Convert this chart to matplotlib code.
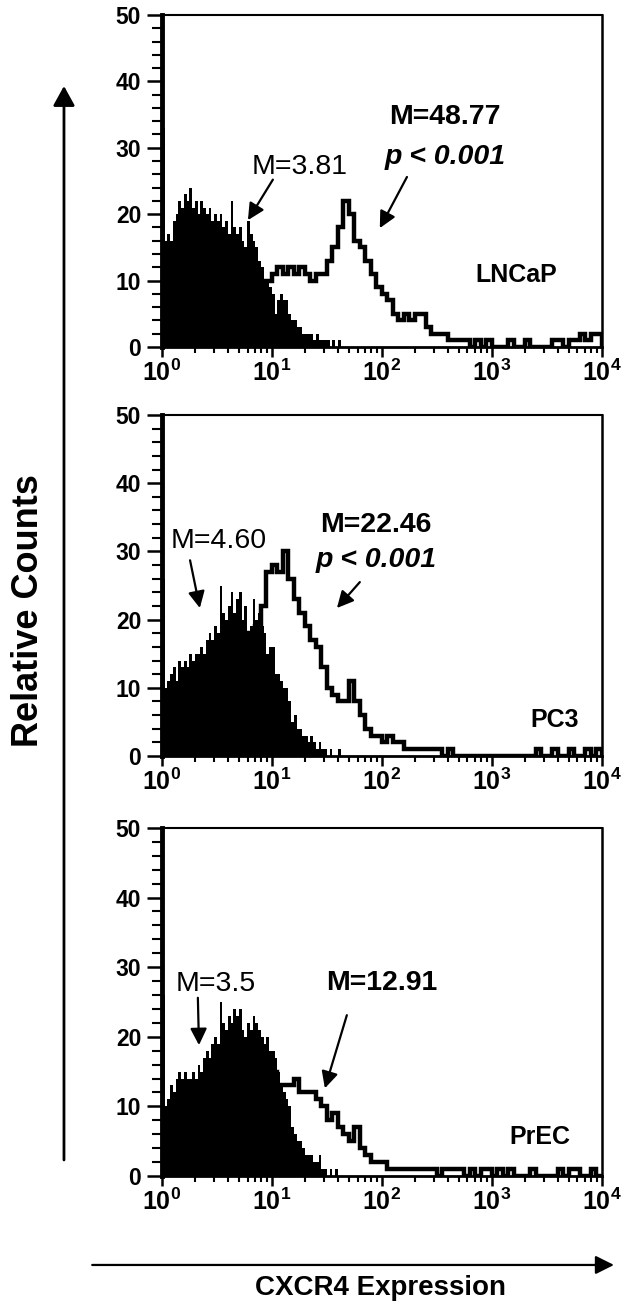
import matplotlib
matplotlib.use('Agg')
import numpy as np
import matplotlib.pyplot as plt
from matplotlib import font_manager
from matplotlib.patches import FancyArrowPatch
from matplotlib.ticker import FixedLocator, FixedFormatter, LogLocator, MultipleLocator, NullFormatter

# counts per channel, isotype control (filled) = 40 channels/decade,
# CXCR4 stain (outline) = 20 channels/decade, starting at 10^0
lncap_iso = [33, 16, 17, 16, 19, 20, 22, 21, 23, 22,
             24, 21, 22, 20, 22, 21, 20, 21, 19, 20,
             19, 20, 18, 19, 17, 22, 18, 17, 18, 16,
             15, 19, 17, 16, 15, 13, 12, 10, 10, 9,
             8, 5, 7, 8, 7, 7, 5, 4, 4, 3,
             3, 2, 2, 2, 2, 1, 2, 1, 1, 1,
             1, 0, 1, 0, 1]
lncap_cxcr4 = [8, 8, 9, 9, 10, 10, 10, 10, 10, 10,
               10, 10, 10, 10, 10, 10, 10, 10, 10, 10,
               11, 12, 11, 12, 11, 12, 11, 10, 11, 11,
               13, 15, 18, 22, 20, 16, 15, 13, 11, 9,
               8, 7, 5, 4, 5, 4, 5, 5, 3, 2,
               2, 2, 1, 1, 1, 1, 0, 1, 0, 1,
               0, 0, 0, 1, 0, 0, 1, 0, 0, 0,
               0, 1, 1, 0, 1, 1, 2, 1, 2, 2]

pc3_iso = [26, 10, 11, 12, 13, 11, 14, 13, 14, 13,
           15, 14, 15, 15, 16, 15, 17, 18, 17, 19,
           18, 25, 21, 20, 22, 24, 21, 23, 24, 20,
           22, 18, 19, 23, 20, 21, 19, 18, 15, 16,
           16, 12, 12, 11, 10, 10, 8, 5, 6, 4,
           4, 3, 3, 2, 3, 2, 1, 2, 1, 1,
           0, 1, 0, 0, 1]
pc3_cxcr4 = [8, 9, 10, 10, 11, 11, 12, 13, 14, 15,
             16, 17, 18, 18, 18, 18, 18, 19, 22, 27,
             28, 27, 30, 26, 23, 21, 19, 17, 16, 13,
             10, 9, 8, 8, 11, 8, 6, 4, 3, 3,
             2, 3, 2, 2, 1, 1, 1, 1, 1, 1,
             1, 0, 1, 0, 0, 0, 0, 0, 0, 0,
             0, 0, 0, 0, 0, 0, 0, 0, 1, 0,
             0, 1, 0, 0, 1, 0, 0, 1, 0, 1]

prec_iso = [26, 10, 11, 13, 12, 14, 15, 14, 15, 14,
            14, 15, 14, 16, 15, 17, 18, 17, 19, 20,
            19, 25, 22, 21, 23, 22, 24, 23, 24, 21,
            20, 22, 21, 23, 22, 21, 20, 19, 20, 18,
            18, 17, 15, 13, 12, 11, 10, 7, 6, 5,
            5, 4, 3, 3, 3, 2, 2, 3, 1, 1,
            0, 1, 0, 1, 0]
prec_cxcr4 = [8, 9, 10, 11, 11, 12, 12, 13, 13, 14,
              14, 14, 15, 15, 15, 15, 15, 16, 16, 16,
              15, 13, 13, 13, 14, 12, 12, 12, 11, 10,
              8, 9, 7, 6, 5, 7, 4, 3, 2, 2,
              2, 1, 1, 1, 1, 1, 1, 1, 1, 1,
              0, 1, 1, 1, 1, 0, 1, 0, 1, 1,
              0, 1, 0, 1, 0, 0, 0, 1, 0, 0,
              0, 0, 1, 0, 1, 1, 0, 0, 1, 0]

cell_lines = ['LNCaP', 'PC3', 'PrEC']
iso_means = ['M=3.81', 'M=4.60', 'M=3.5']
cxcr4_means = ['M=48.77', 'M=22.46', 'M=12.91']
p_values = ['p < 0.001', 'p < 0.001', None]
x_ticks = [1, 10, 100, 1000, 10000]
x_tick_labels = [r'$\mathregular{10^{0}}$', r'$\mathregular{10^{1}}$', r'$\mathregular{10^{2}}$',
                 r'$\mathregular{10^{3}}$', r'$\mathregular{10^{4}}$']
y_ticks = [0, 10, 20, 30, 40, 50]


def font_ok(name):
    try:
        font_manager.findfont(font_manager.FontProperties(family=name), fallback_to_default=False)
        return True
    except ValueError:
        return False


main_font = 'Liberation Sans' if font_ok('Liberation Sans') else 'DejaVu Sans'
tick_font = 'Liberation Sans Narrow' if font_ok('Liberation Sans Narrow') else main_font
plt.rcParams['font.family'] = [main_font, 'DejaVu Sans']

fig = plt.figure(figsize=(6.23, 13.01), dpi=100)

# layout: axes rect, and label / arrow positions in data coords
layout = [
    dict(rect=[0.260, 0.7333, 0.706, 0.2552],
         iso_txt=(18, 27.1), iso_arrow=((10.2, 25.2), (6.05, 19.1)),
         cx_txt=(374, 34.6), p_txt=(374, 28.6), cx_arrow=((169, 25.6), (95.7, 17.9)),
         name_txt=(1652, 10.8)),
    dict(rect=[0.260, 0.4189, 0.706, 0.2621],
         iso_txt=(3.3, 31.5), iso_arrow=((1.80, 28.7), (2.21, 21.7)),
         cx_txt=(88, 33.9), p_txt=(88, 28.7), cx_arrow=((63, 25.5), (39, 21.7)),
         name_txt=(3740, 5.3)),
    dict(rect=[0.260, 0.0961, 0.706, 0.2675],
         iso_txt=(3.1, 27.6), iso_arrow=((2.12, 25.6), (2.17, 18.8)),
         cx_txt=(100, 27.7), p_txt=None, cx_arrow=((48, 23.1), (30.3, 12.6)),
         name_txt=(2730, 5.6)),
]

isos = [lncap_iso, pc3_iso, prec_iso]
cxcr4s = [lncap_cxcr4, pc3_cxcr4, prec_cxcr4]
small_arrow = dict(arrowstyle='-|>,head_length=0.5,head_width=0.25', mutation_scale=20,
                   lw=1.6, color='black', shrinkA=0, shrinkB=0)

for i in range(3):
    lay = layout[i]
    ax = fig.add_axes(lay['rect'])
    iso = np.array(isos[i], dtype=float)
    cx = np.array(cxcr4s[i], dtype=float)
    iso_edges = np.logspace(0, len(iso) / 40, len(iso) + 1)
    cx_edges = np.logspace(0, len(cx) / 20, len(cx) + 1)
    ax.stairs(iso, iso_edges, fill=True, color='black', lw=0)
    ax.stairs(cx, cx_edges, color='black', lw=3.2)

    ax.set_xscale('log')
    ax.set_xlim(1, 10000)
    ax.set_ylim(0, 50)
    ax.xaxis.set_major_locator(FixedLocator(x_ticks))
    ax.xaxis.set_major_formatter(FixedFormatter(x_tick_labels))
    ax.xaxis.set_minor_locator(LogLocator(base=10, subs=np.arange(2, 10)))
    ax.xaxis.set_minor_formatter(NullFormatter())
    ax.set_yticks(y_ticks)
    ax.yaxis.set_minor_locator(MultipleLocator(2))
    for lab in ax.get_xticklabels():
        lab.set_fontfamily([tick_font, 'DejaVu Sans'])
        lab.set_fontweight('bold')
        lab.set_fontsize(18)
    for lab in ax.get_yticklabels():
        lab.set_fontweight('bold')
        lab.set_fontsize(16.5)
    ax.tick_params(axis='x', which='major', direction='out', length=7, width=1.8, pad=2)
    ax.tick_params(axis='x', which='minor', direction='out', length=4, width=1.5)
    ax.tick_params(axis='y', which='major', direction='out', length=11, width=1.8, pad=4)
    ax.tick_params(axis='y', which='minor', direction='out', length=7, width=1.5)
    ax.spines['left'].set_linewidth(3.5)
    ax.spines['bottom'].set_linewidth(2)
    ax.spines['top'].set_linewidth(1.5)
    ax.spines['right'].set_linewidth(1.8)

    ax.text(*lay['iso_txt'], iso_means[i], fontsize=20.5, ha='center', va='center')
    ax.annotate('', xy=lay['iso_arrow'][1], xytext=lay['iso_arrow'][0], arrowprops=small_arrow)
    ax.text(*lay['cx_txt'], cxcr4_means[i], fontsize=20.5, fontweight='bold', ha='center', va='center')
    if p_values[i]:
        ax.text(*lay['p_txt'], p_values[i], fontsize=20.5, fontweight='bold', fontstyle='italic',
                ha='center', va='center')
    ax.annotate('', xy=lay['cx_arrow'][1], xytext=lay['cx_arrow'][0], arrowprops=small_arrow)
    ax.text(*lay['name_txt'], cell_lines[i], fontsize=18, fontweight='bold', ha='center', va='center')

# big axis arrows and titles
fig.add_artist(FancyArrowPatch((0.1027, 0.1084), (0.1027, 0.9339), transform=fig.transFigure,
                               arrowstyle='-|>,head_length=0.4,head_width=0.22', mutation_scale=30,
                               lw=2, color='black', shrinkA=0, shrinkB=0))
fig.add_artist(FancyArrowPatch((0.148, 0.0277), (0.9855, 0.0277), transform=fig.transFigure,
                               arrowstyle='-|>,head_length=0.4,head_width=0.2', mutation_scale=28,
                               lw=1.6, color='black', shrinkA=0, shrinkB=0))
fig.text(0.0465, 0.531, 'Relative Counts', rotation=90, fontsize=26, fontweight='bold',
         ha='center', va='center')
fig.text(0.61, 0.0046, 'CXCR4 Expression', fontsize=20, fontweight='bold',
         ha='center', va='baseline')

fig.savefig('out.png', dpi=100)
